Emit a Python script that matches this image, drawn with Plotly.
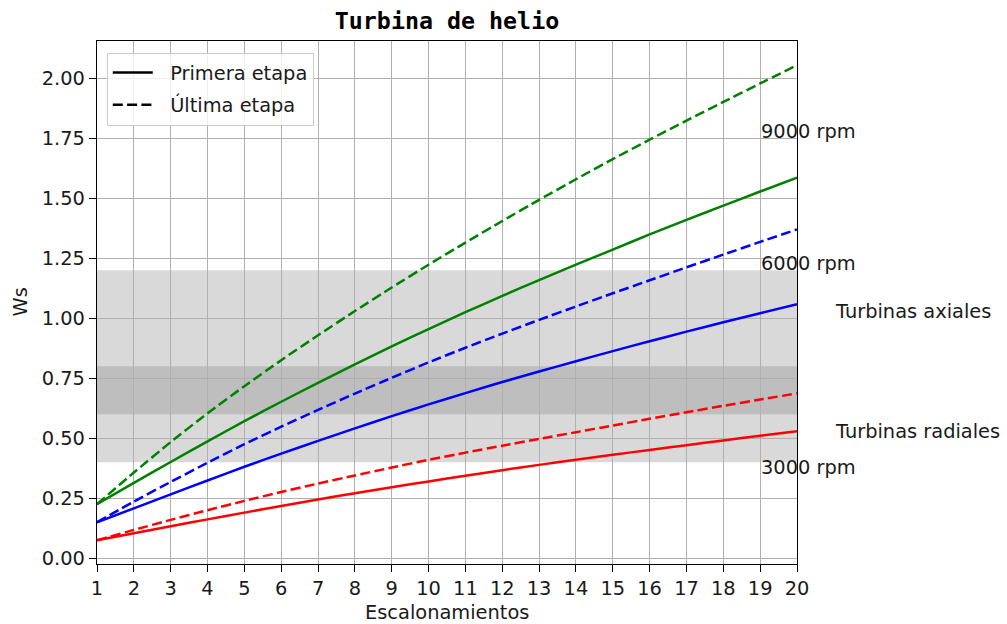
import plotly.graph_objects as go

# Number of stages (escalonamientos)
stages = list(range(1, 21))

# Specific speed Ws of the first stage (solid) and of the last stage (dashed)
ws_9000_primera = [0.225, 0.314, 0.401, 0.487, 0.571, 0.652, 0.731, 0.808, 0.883, 0.955,
                   1.025, 1.093, 1.159, 1.223, 1.286, 1.349, 1.410, 1.469, 1.528, 1.586]
ws_9000_ultima = [0.225, 0.357, 0.484, 0.604, 0.717, 0.825, 0.929, 1.030, 1.128, 1.223,
                  1.315, 1.405, 1.493, 1.579, 1.663, 1.744, 1.823, 1.901, 1.978, 2.054]
ws_6000_primera = [0.150, 0.208, 0.266, 0.324, 0.381, 0.436, 0.489, 0.541, 0.592, 0.641,
                   0.688, 0.734, 0.778, 0.821, 0.863, 0.904, 0.944, 0.983, 1.021, 1.058]
ws_6000_ultima = [0.150, 0.236, 0.318, 0.398, 0.475, 0.548, 0.618, 0.686, 0.752, 0.816,
                  0.877, 0.936, 0.993, 1.049, 1.104, 1.158, 1.212, 1.265, 1.318, 1.370]
ws_3000_primera = [0.075, 0.104, 0.133, 0.162, 0.190, 0.218, 0.245, 0.271, 0.296, 0.320,
                   0.344, 0.367, 0.389, 0.410, 0.431, 0.451, 0.471, 0.491, 0.510, 0.529]
ws_3000_ultima = [0.075, 0.118, 0.160, 0.200, 0.239, 0.276, 0.311, 0.345, 0.378, 0.410,
                  0.440, 0.469, 0.497, 0.525, 0.553, 0.581, 0.608, 0.635, 0.661, 0.687]

# Ws bands of each turbine type
band_radiales = (0.4, 0.8)
band_axiales = (0.6, 1.2)

# Text labels: (x, y baseline, text)
speed_labels = [(19, 1.75, "9000 rpm"), (19, 1.2, "6000 rpm"), (19, 0.35, "3000 rpm")]
type_labels = [(21, 1.0, "Turbinas axiales"), (21, 0.5, "Turbinas radiales")]

x_range = [1, 20]
y_range = [-0.024, 2.155]
y_ticks = [0, 0.25, 0.5, 0.75, 1.0, 1.25, 1.5, 1.75, 2.0]

FONT = "DejaVu Sans"
FS = 19.4
LW = 2.5
DASH = "10px,4.3px"

series = [
    (ws_9000_primera, "#008000", "solid"),
    (ws_9000_ultima, "#008000", DASH),
    (ws_6000_primera, "#0000ff", "solid"),
    (ws_6000_ultima, "#0000ff", DASH),
    (ws_3000_primera, "#ff0000", "solid"),
    (ws_3000_ultima, "#ff0000", DASH),
]

fig = go.Figure()
for values, color, dash in series:
    fig.add_trace(go.Scatter(
        x=stages, y=values, mode="lines", showlegend=False,
        line=dict(color=color, width=LW, dash=dash, shape="spline", smoothing=0.5),
        hoverinfo="x+y",
    ))

# Legend entries (black line styles)
for name, dash, grp in [("Primera etapa", "solid", "a"), ("Última etapa", DASH, "b")]:
    fig.add_trace(go.Scatter(
        x=[None], y=[None], mode="lines", name="\u00a0\u00a0" + name, legendgroup=grp,
        line=dict(color="black", width=LW, dash=dash),
    ))

for y0, y1 in (band_radiales, band_axiales):
    fig.add_shape(type="rect", xref="x domain", yref="y", x0=0, x1=1, y0=y0, y1=y1,
                  fillcolor="#808080", opacity=0.3, line=dict(width=0), layer="below")

annotations = []
for x, y, text in speed_labels + type_labels:
    annotations.append(dict(
        xref="paper", yref="y",
        x=(x - x_range[0]) / (x_range[1] - x_range[0]), y=y,
        text=text, showarrow=False, xanchor="left", yanchor="middle",
        yshift=7, xshift=-1,
        font=dict(family=FONT, size=FS, color="#1a1a1a"),
    ))

annotations.append(dict(
    xref="paper", yref="paper", x=0.5, y=-0.093, text="Escalonamientos",
    showarrow=False, xanchor="center", yanchor="middle",
    font=dict(family=FONT, size=FS, color="#1a1a1a"),
))
annotations.append(dict(
    xref="paper", yref="paper", x=-0.11, y=0.5, text="Ws", textangle=-90,
    showarrow=False, xanchor="center", yanchor="middle",
    font=dict(family=FONT, size=FS, color="#1a1a1a"),
))

axis_common = dict(
    showline=True, linecolor="black", linewidth=1.4, mirror=True,
    ticks="outside", ticklen=7, tickwidth=1.4, tickcolor="black",
    showgrid=True, gridcolor="#b0b0b0", gridwidth=1.4, zeroline=False,
    tickfont=dict(family=FONT, size=FS, color="#1a1a1a"),
)

fig.update_layout(
    width=1007, height=624,
    margin=dict(l=97, r=210, t=41, b=60),
    paper_bgcolor="white", plot_bgcolor="white",
    title=dict(text="Turbina de helio", x=0.5, xref="paper", xanchor="center",
               y=1 - 21 / 624, yref="container", yanchor="middle",
               font=dict(family="DejaVu Sans Mono", size=23.3, color="black", weight="bold")),
    xaxis=dict(range=x_range, tickmode="array", tickvals=stages,
               ticktext=[str(s) for s in stages], **axis_common),
    yaxis=dict(range=y_range, tickmode="array", tickvals=y_ticks,
               ticktext=[f"{v:.2f}" for v in y_ticks], **axis_common),
    legend=dict(x=0.014, y=0.978, xanchor="left", yanchor="top",
                bgcolor="rgba(255,255,255,0.8)", bordercolor="#cccccc", borderwidth=1,
                font=dict(family=FONT, size=FS, color="#1a1a1a"),
                tracegroupgap=4, itemwidth=40),
    annotations=annotations,
    showlegend=True,
)

fig.write_html("out.html")
